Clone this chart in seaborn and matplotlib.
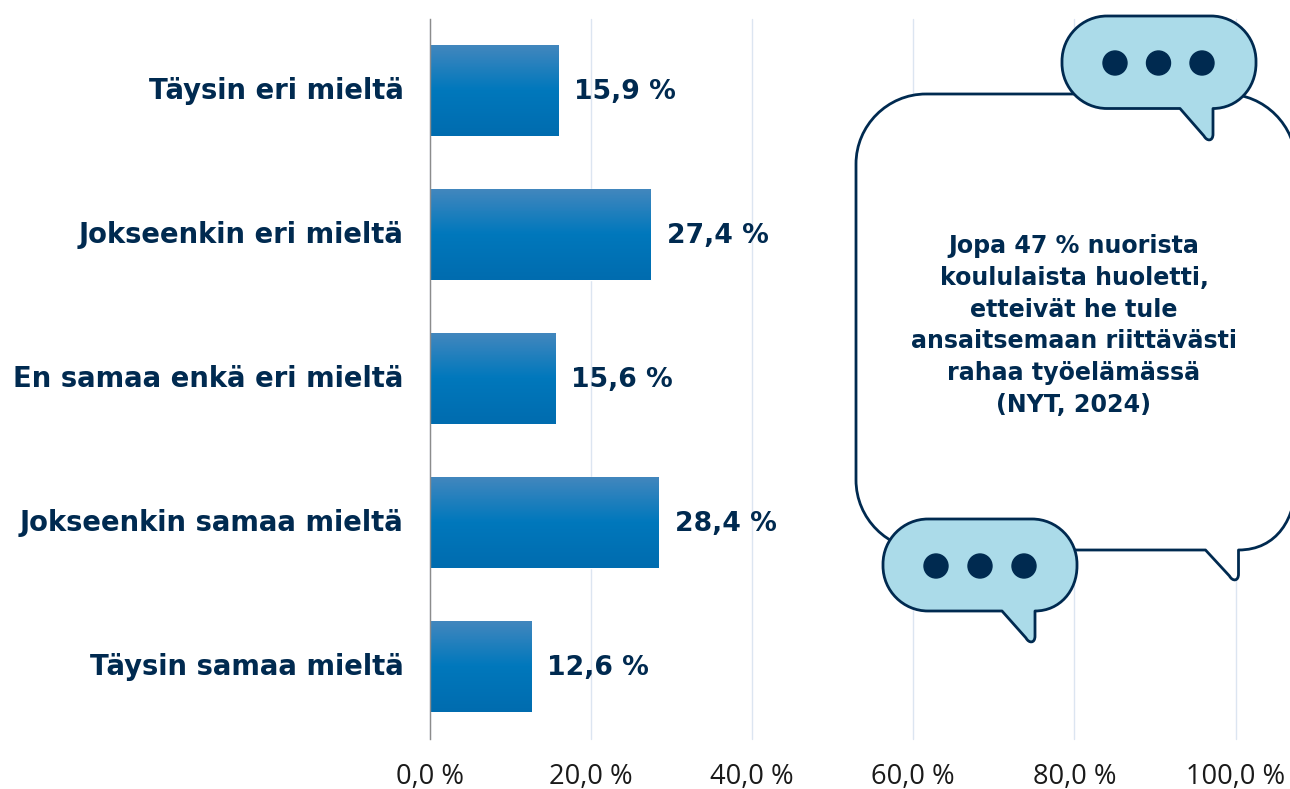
#!/usr/bin/env python3
"""Likert bar chart with decorative speech bubbles around a callout."""

import matplotlib.pyplot as plt
import numpy as np
import pandas as pd
import seaborn as sns
from matplotlib.colors import LinearSegmentedColormap
from matplotlib.patches import Circle, PathPatch
from matplotlib.path import Path
from matplotlib.transforms import Affine2D

CATEGORIES = [
    "Täysin eri mieltä",
    "Jokseenkin eri mieltä",
    "En samaa enkä eri mieltä",
    "Jokseenkin samaa mieltä",
    "Täysin samaa mieltä",
]
VALUES = [15.9, 27.4, 15.6, 28.4, 12.6]
VALUE_LABELS = ["15,9 %", "27,4 %", "15,6 %", "28,4 %", "12,6 %"]
X_TICKS = [0, 20, 40, 60, 80, 100]
X_TICK_LABELS = ["0,0 %", "20,0 %", "40,0 %", "60,0 %", "80,0 %", "100,0 %"]
CALLOUT_LINES = [
    "Jopa 47 % nuorista",
    "koululaista huoletti,",
    "etteivät he tule",
    "ansaitsemaan riittävästi",
    "rahaa työelämässä",
    "(NYT, 2024)",
]

NAVY = "#002A50"
BUBBLE_BLUE = "#ABDBE9"
GRID = "#DCE5F1"
WIDTH, HEIGHT = 1290, 789


def bubble_path(left, top, right, bottom, rad, tail):
    """Rounded box with a tail on the lower edge, in pixel coordinates."""
    k = 0.55 * rad
    x0, tip_y, x1 = tail
    corner_x = max(x1, right - rad)
    verts = [
        (left + rad, top),
        (right - rad, top),
        (right - rad + k, top), (right, top + rad - k), (right, top + rad),
        (right, bottom - rad),
        (right, bottom - rad + k), (corner_x + k, bottom), (corner_x, bottom),
        (x1, tip_y - 6),
        (x1, tip_y + 1.5), (x1 - 6, tip_y + 1.5), (x1 - 9, tip_y - 4),
        (x0, bottom),
        (left + rad, bottom),
        (left + rad - k, bottom), (left, bottom - rad + k), (left, bottom - rad),
        (left, top + rad),
        (left, top + rad - k), (left + rad - k, top), (left + rad, top),
    ]
    codes = [
        Path.MOVETO,
        Path.LINETO,
        Path.CURVE4, Path.CURVE4, Path.CURVE4,
        Path.LINETO,
        Path.CURVE4, Path.CURVE4, Path.CURVE4,
        Path.LINETO,
        Path.CURVE4, Path.CURVE4, Path.CURVE4,
        Path.LINETO,
        Path.LINETO,
        Path.CURVE4, Path.CURVE4, Path.CURVE4,
        Path.LINETO,
        Path.CURVE4, Path.CURVE4, Path.CURVE4,
    ]
    return Path(verts, codes)


def draw_bubble(ax, px, box, rad, tail, face, dots=None, zorder=5):
    left, top, right, bottom = box
    ax.add_patch(PathPatch(
        bubble_path(left, top, right, bottom, rad, tail),
        facecolor=face, edgecolor=NAVY, lw=2.0,
        transform=px, clip_on=False, zorder=zorder, joinstyle="round",
    ))
    if dots:
        xs, y = dots
        for x in xs:
            ax.add_patch(Circle((x, y), 12, color=NAVY, transform=px,
                                clip_on=False, zorder=zorder + 1))


sns.set_theme(style="white")
plt.rcParams["font.family"] = ["DejaVu Sans"]

fig = plt.figure(figsize=(WIDTH / 100, HEIGHT / 100), dpi=100)
ax = fig.add_axes([430 / WIDTH, 1 - 738.5 / HEIGHT, 805.5 / WIDTH, 720 / HEIGHT])

df = pd.DataFrame({"category": CATEGORIES, "value": VALUES})
sns.barplot(data=df, x="value", y="category", order=CATEGORIES, width=0.632,
            color="#0077BB", saturation=1, ax=ax, zorder=2)

ax.set_xlim(0, 100)
ylim = ax.get_ylim()
ax.set_xlabel("")
ax.set_ylabel("")
sns.despine(ax=ax, top=True, right=True, bottom=True, left=False)
ax.spines["left"].set_color("#8C8C8C")
ax.spines["left"].set_linewidth(1.0)
ax.spines["left"].set_zorder(4)

ax.set_xticks(X_TICKS, X_TICK_LABELS, family="Open Sans", fontsize=19.6,
              color="#1A1A1A")
ax.tick_params(axis="x", length=0, pad=17.5)
ax.tick_params(axis="y", length=0, pad=19)
nudge_up = Affine2D().translate(0, 2.5)
for lab in ax.get_yticklabels():
    lab.set_fontweight("bold")
    lab.set_fontsize(19.8)
    lab.set_color(NAVY)
    lab.set_transform(lab.get_transform() + nudge_up)
ax.xaxis.grid(True, color=GRID, lw=1.0, zorder=0, clip_on=False)
ax.yaxis.grid(False)
ax.set_axisbelow(True)

# vertical gradient on each bar, clipped to the bar itself
cmap = LinearSegmentedColormap.from_list(
    "bar", [(0, "#4387BE"), (0.5, "#0078BC"), (1, "#006CAF")]
)
ramp = np.linspace(0, 1, 64).reshape(-1, 1)
for bar in ax.patches:
    x0, y0 = bar.get_x(), bar.get_y()
    im = ax.imshow(ramp, cmap=cmap, aspect="auto", origin="upper", zorder=3,
                   extent=(x0, x0 + bar.get_width(), y0 + bar.get_height(), y0))
    im.set_clip_path(bar)
ax.set_xlim(0, 100)
ax.set_ylim(ylim)

value_texts = ax.bar_label(ax.containers[0], labels=VALUE_LABELS, padding=11.4,
                           fontsize=19.2, fontweight="bold", color=NAVY,
                           zorder=4, clip_on=False)
for t in value_texts:
    t.xyann = (t.xyann[0], t.xyann[1] - 1.2)

px = Affine2D().scale(1, -1).translate(0, HEIGHT)
draw_bubble(ax, px, (856, 94, 1296, 550), 70, (1205.5, 580, 1238.5), "white")
draw_bubble(ax, px, (1062, 16, 1256, 108.5), 45, (1180, 140, 1213),
            BUBBLE_BLUE, dots=((1115, 1158.5, 1202), 63), zorder=7)
draw_bubble(ax, px, (883, 519, 1077, 611), 45, (1002, 642, 1035),
            BUBBLE_BLUE, dots=((936, 980, 1024), 566), zorder=7)

for i, line in enumerate(CALLOUT_LINES):
    ax.text(1074, 246 + i * 31.8, line, transform=px, ha="center", va="center",
            fontweight="bold", fontsize=17.1, color=NAVY, zorder=9)

fig.savefig("out.png", dpi=100)
